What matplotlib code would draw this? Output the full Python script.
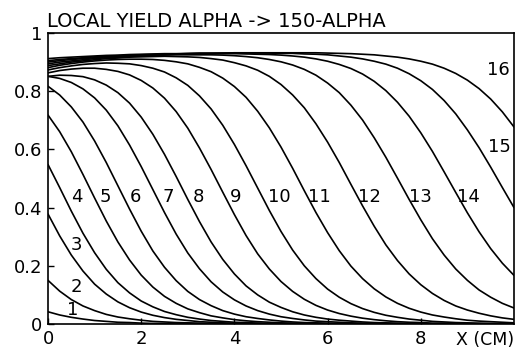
import matplotlib
matplotlib.use('Agg')
import matplotlib.pyplot as plt

# x positions (cm) shared by all curves
x_cm = [0, 0.25, 0.5, 0.75, 1, 1.25, 1.5, 1.75, 2, 2.25, 2.5, 2.75, 3, 3.25, 3.5, 3.75,
        4, 4.25, 4.5, 4.75, 5, 5.25, 5.5, 5.75, 6, 6.25, 6.5, 6.75, 7, 7.25, 7.5, 7.75,
        8, 8.25, 8.5, 8.75, 9, 9.25, 9.5, 9.75, 10]

# local yield per curve (tails end where the curve meets the axis)
y1 = [0.042, 0.031, 0.023, 0.017, 0.012, 0.009, 0.006, 0.005, 0.003, 0.002, 0.002, 0.001,
      0.001, 0.001, 0.0]
y2 = [0.150, 0.113, 0.084, 0.062, 0.046, 0.033, 0.024, 0.018, 0.013, 0.009, 0.007, 0.005,
      0.004, 0.003, 0.002, 0.001, 0.001, 0.001, 0.001, 0.0]
y3 = [0.378, 0.303, 0.237, 0.182, 0.137, 0.103, 0.076, 0.056, 0.041, 0.030, 0.022, 0.016,
      0.012, 0.008, 0.006, 0.004, 0.003, 0.002, 0.002, 0.001, 0.001, 0.001, 0.0]
y4 = [0.548, 0.469, 0.388, 0.312, 0.245, 0.188, 0.142, 0.107, 0.079, 0.059, 0.043, 0.032,
      0.023, 0.017, 0.012, 0.009, 0.006, 0.005, 0.003, 0.002, 0.002, 0.001, 0.001, 0.001, 0.0]
y5 = [0.718, 0.661, 0.592, 0.514, 0.433, 0.354, 0.282, 0.220, 0.168, 0.127, 0.095, 0.071,
      0.052, 0.039, 0.028, 0.021, 0.015, 0.011, 0.008, 0.006, 0.004, 0.003, 0.002, 0.002,
      0.001, 0.001, 0.001, 0.0]
y6 = [0.817, 0.787, 0.746, 0.694, 0.629, 0.555, 0.475, 0.395, 0.319, 0.251, 0.195, 0.149,
      0.112, 0.084, 0.063, 0.046, 0.034, 0.025, 0.019, 0.014, 0.010, 0.007, 0.005, 0.004,
      0.003, 0.002, 0.002, 0.001, 0.001, 0.001, 0.0]
y7 = [0.851, 0.844, 0.830, 0.808, 0.777, 0.735, 0.681, 0.615, 0.541, 0.462, 0.383, 0.309,
      0.244, 0.190, 0.145, 0.110, 0.083, 0.062, 0.046, 0.034, 0.025, 0.019, 0.014, 0.010,
      0.008, 0.006, 0.004, 0.003, 0.002, 0.002, 0.001, 0.001, 0.001, 0.0]
y8 = [0.851, 0.855, 0.854, 0.850, 0.839, 0.821, 0.795, 0.759, 0.711, 0.652, 0.583, 0.507,
      0.428, 0.352, 0.282, 0.222, 0.172, 0.131, 0.100, 0.075, 0.057, 0.042, 0.031, 0.023,
      0.017, 0.013, 0.010, 0.007, 0.005, 0.004, 0.003, 0.002, 0.002, 0.001, 0.001, 0.001, 0.0]
y9 = [0.863, 0.871, 0.876, 0.879, 0.879, 0.875, 0.868, 0.856, 0.837, 0.811, 0.776, 0.730,
      0.673, 0.605, 0.531, 0.453, 0.376, 0.304, 0.241, 0.189, 0.146, 0.112, 0.085, 0.064,
      0.048, 0.036, 0.027, 0.020, 0.015, 0.011, 0.008, 0.006, 0.005, 0.003, 0.003, 0.002,
      0.001, 0.001, 0.001, 0.001, 0.0]
y10 = [0.873, 0.881, 0.887, 0.892, 0.895, 0.897, 0.896, 0.894, 0.888, 0.879, 0.866, 0.846,
       0.820, 0.784, 0.739, 0.683, 0.617, 0.544, 0.467, 0.390, 0.318, 0.254, 0.200, 0.156,
       0.120, 0.092, 0.070, 0.053, 0.040, 0.030, 0.023, 0.017, 0.013, 0.009, 0.007, 0.005,
       0.004, 0.003, 0.002, 0.002, 0.001]
y11 = [0.881, 0.889, 0.895, 0.900, 0.904, 0.907, 0.909, 0.910, 0.910, 0.909, 0.906, 0.901,
       0.894, 0.882, 0.867, 0.845, 0.816, 0.779, 0.731, 0.674, 0.608, 0.535, 0.458, 0.383,
       0.314, 0.252, 0.199, 0.156, 0.121, 0.093, 0.071, 0.054, 0.041, 0.031, 0.024, 0.018,
       0.013, 0.010, 0.008, 0.006, 0.004]
y12 = [0.888, 0.894, 0.900, 0.904, 0.908, 0.912, 0.914, 0.917, 0.918, 0.919, 0.920, 0.919,
       0.918, 0.916, 0.912, 0.907, 0.898, 0.887, 0.872, 0.851, 0.823, 0.787, 0.743, 0.688,
       0.625, 0.555, 0.480, 0.406, 0.336, 0.272, 0.218, 0.172, 0.135, 0.105, 0.081, 0.062,
       0.048, 0.037, 0.028, 0.021, 0.016]
y13 = [0.894, 0.900, 0.904, 0.908, 0.912, 0.915, 0.917, 0.920, 0.921, 0.923, 0.924, 0.925,
       0.925, 0.925, 0.925, 0.924, 0.922, 0.919, 0.915, 0.909, 0.901, 0.890, 0.875, 0.855,
       0.828, 0.795, 0.752, 0.701, 0.640, 0.573, 0.501, 0.428, 0.358, 0.293, 0.237, 0.189,
       0.150, 0.117, 0.092, 0.071, 0.055]
y14 = [0.900, 0.905, 0.909, 0.912, 0.915, 0.918, 0.920, 0.922, 0.923, 0.925, 0.926, 0.927,
       0.928, 0.928, 0.929, 0.929, 0.929, 0.928, 0.927, 0.926, 0.924, 0.921, 0.917, 0.911,
       0.903, 0.892, 0.878, 0.859, 0.834, 0.802, 0.762, 0.714, 0.657, 0.593, 0.523, 0.452,
       0.382, 0.317, 0.259, 0.209, 0.167]
y15 = [0.905, 0.909, 0.912, 0.915, 0.918, 0.920, 0.922, 0.923, 0.925, 0.926, 0.927, 0.928,
       0.929, 0.930, 0.930, 0.931, 0.931, 0.931, 0.931, 0.931, 0.930, 0.930, 0.928, 0.927,
       0.925, 0.921, 0.917, 0.911, 0.903, 0.893, 0.879, 0.860, 0.836, 0.806, 0.768, 0.722,
       0.667, 0.606, 0.539, 0.469, 0.400]
y16 = [0.912, 0.915, 0.917, 0.919, 0.921, 0.923, 0.924, 0.926, 0.927, 0.928, 0.929, 0.929,
       0.930, 0.931, 0.931, 0.931, 0.932, 0.932, 0.932, 0.932, 0.932, 0.932, 0.932, 0.932,
       0.931, 0.930, 0.929, 0.927, 0.925, 0.921, 0.917, 0.911, 0.903, 0.893, 0.879, 0.861,
       0.838, 0.809, 0.773, 0.729, 0.677]

curve_labels = ['1', '2', '3', '4', '5', '6', '7', '8', '9', '10', '11', '12', '13', '14', '15', '16']
label_x = [0.54, 0.60, 0.60, 0.62, 1.24, 1.87, 2.57, 3.22, 4.03, 4.96, 5.82, 6.89, 8.0, 9.03, 9.68, 9.66]
label_y = [0.048, 0.127, 0.27, 0.437, 0.437, 0.437, 0.437, 0.437, 0.437, 0.437, 0.437, 0.437,
           0.437, 0.437, 0.608, 0.873]

x_ticks = [0, 2, 4, 6, 8]
x_tick_labels = ['0', '2', '4', '6', '8']
y_ticks = [0, 0.2, 0.4, 0.6, 0.8, 1]
y_tick_labels = ['0', '0.2', '0.4', '0.6', '0.8', '1']

curves = [y1, y2, y3, y4, y5, y6, y7, y8, y9, y10, y11, y12, y13, y14, y15, y16]

W, H = 516, 348
fig = plt.figure(figsize=(W/100, H/100), dpi=100)
ax = fig.add_axes([48/W, 1-324/H, (514-48)/W, (324-33)/H])

for yy in curves:
    ax.plot(x_cm[:len(yy)], yy, color='black', lw=1.2, solid_capstyle='round')

for t, a, b in zip(curve_labels, label_x, label_y):
    ax.text(a, b, t, fontsize=13, ha='center', va='center')

ax.set_xlim(0, 10)
ax.set_ylim(0, 1)
ax.set_xticks(x_ticks)
ax.set_xticklabels(x_tick_labels)
ax.set_yticks(y_ticks)
ax.set_yticklabels(y_tick_labels)
ax.tick_params(direction='in', length=4, width=1, labelsize=13, pad=4)
for sp in ax.spines.values():
    sp.set_linewidth(1.2)
ax.text(1.0, -0.025, 'X (CM)', transform=ax.transAxes, ha='right', va='top', fontsize=12.5)
fig.text(47/W, 1-27/H, 'LOCAL YIELD ALPHA -> 150-ALPHA', fontsize=14, ha='left', va='baseline')
fig.savefig('out.png', dpi=100)
